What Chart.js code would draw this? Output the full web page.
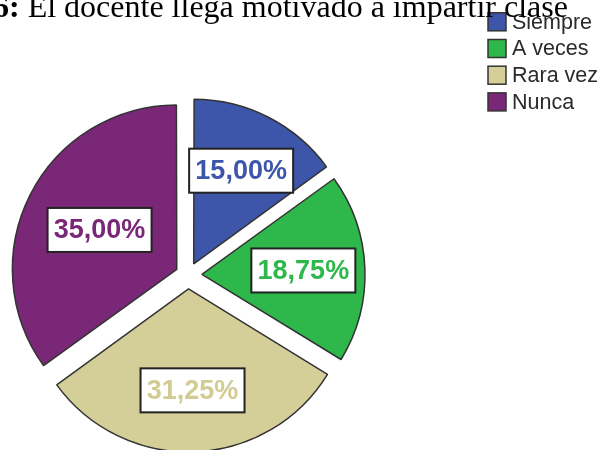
<!DOCTYPE html>
<html>
<head>
<meta charset="utf-8">
<script src="https://cdn.jsdelivr.net/npm/chart.js@4/dist/chart.umd.min.js"></script>
<style>
  html, body { margin: 0; padding: 0; background: #fff; }
  #wrap { position: relative; width: 603px; height: 450px; overflow: hidden; }
  #title {
    position: absolute; left: -7px; top: -10px; white-space: nowrap;
    font-family: "Liberation Serif", "Times New Roman", serif;
    font-size: 32px; line-height: 32px; color: #000; z-index: 2;
  }
  canvas { position: absolute; left: 0; top: 0; }
</style>
</head>
<body>
<div id="wrap">
  <div id="title"><b>6:</b> El docente llega motivado a impartir clase</div>
  <canvas id="c" width="603" height="450"></canvas>
</div>
<script>
// ---- data ----
const categories = ["Siempre", "A veces", "Rara vez", "Nunca"];
const percentages = [15.00, 18.75, 31.25, 35.00];
const sliceColors = ["#3e56aa", "#2eb84b", "#d4ce98", "#7b2777"];
const labelTextColors = ["#3e56aa", "#2eb84b", "#d2cc94", "#7b2777"];
const labelRadiusFraction = [0.63, 0.62, 0.62, 0.52];

const EXPLODE_PX = 15;
const RADIUS = 162;

function fmt(v) { return v.toFixed(2).replace('.', ',') + '%'; }

const labelPlugin = {
  id: 'boxLabels',
  afterDatasetsDraw(chart) {
    const ctx = chart.ctx;
    const meta = chart.getDatasetMeta(0);
    ctx.save();
    meta.data.forEach((arc, i) => {
      const mid = (arc.startAngle + arc.endAngle) / 2;
      const d = EXPLODE_PX + labelRadiusFraction[i] * arc.outerRadius;
      const cx = arc.x + Math.cos(mid) * d;
      const cy = arc.y + Math.sin(mid) * d;
      const w = 104, h = 44;
      ctx.fillStyle = '#ffffff';
      ctx.fillRect(cx - w / 2, cy - h / 2, w, h);
      ctx.lineWidth = 2;
      ctx.strokeStyle = '#222222';
      ctx.strokeRect(cx - w / 2, cy - h / 2, w, h);
      ctx.font = 'bold 27px "Liberation Sans", Arial, sans-serif';
      ctx.fillStyle = labelTextColors[i];
      ctx.textAlign = 'center';
      ctx.textBaseline = 'middle';
      ctx.fillText(fmt(chart.data.datasets[0].data[i]), cx, cy + 1);
    });
    ctx.restore();
  }
};

const legendPlugin = {
  id: 'customLegend',
  afterDraw(chart) {
    const ctx = chart.ctx;
    const ds = chart.data.datasets[0];
    ctx.save();
    chart.data.labels.forEach((lab, i) => {
      const yc = 21.8 + i * 26.7;
      ctx.fillStyle = ds.backgroundColor[i];
      ctx.fillRect(488, yc - 9, 18, 18);
      ctx.lineWidth = 1.5;
      ctx.strokeStyle = '#333333';
      ctx.strokeRect(488, yc - 9, 18, 18);
      ctx.font = '21.5px "Liberation Sans", Arial, sans-serif';
      ctx.fillStyle = '#2a2a2a';
      ctx.textAlign = 'left';
      ctx.textBaseline = 'middle';
      ctx.fillText(lab, 512, yc + 1);
    });
    ctx.restore();
  }
};

new Chart(document.getElementById('c'), {
  type: 'pie',
  data: {
    labels: categories,
    datasets: [{
      data: percentages,
      backgroundColor: sliceColors,
      borderColor: '#333333',
      borderWidth: 1.5,
      offset: (c) => {
        const d = c.dataset.data;
        const tot = d.reduce((a, b) => a + b, 0);
        const circ = d[c.dataIndex] / tot * 2 * Math.PI;
        const fix = 1 - Math.sin(Math.min(Math.PI, circ));
        return 4 * EXPLODE_PX / (1 + fix);
      }
    }]
  },
  options: {
    responsive: false,
    devicePixelRatio: 1,
    animation: false,
    radius: RADIUS,
    layout: { padding: { left: 0, right: 227, top: 100, bottom: 0 } },
    plugins: {
      legend: { display: false },
      tooltip: { enabled: false },
      title: { display: false }
    }
  },
  plugins: [labelPlugin, legendPlugin]
});
</script>
</body>
</html>
